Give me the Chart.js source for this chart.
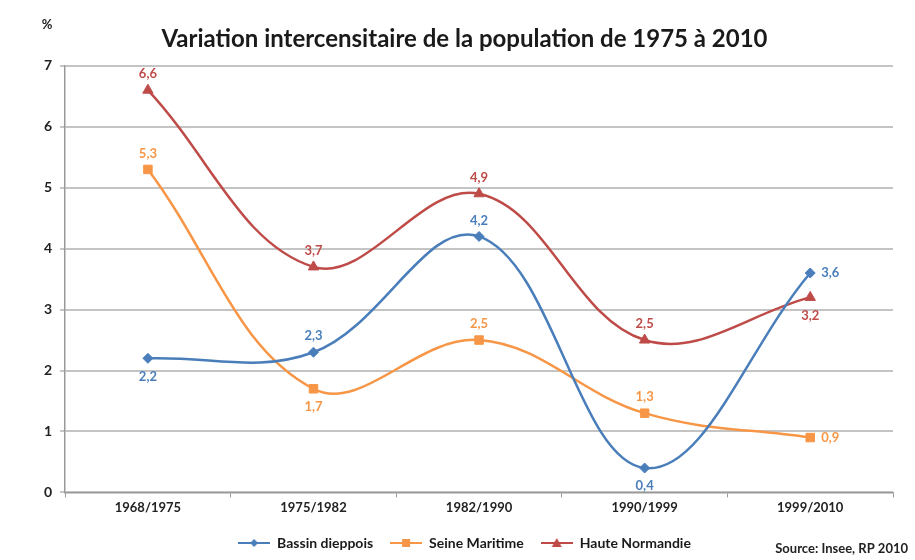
<!DOCTYPE html>
<html>
<head>
<meta charset="utf-8">
<script src="https://cdn.jsdelivr.net/npm/chart.js@4"></script>
<style>
  body { margin: 0; background: #fff; }
  #wrap { width: 915px; height: 560px; }
</style>
</head>
<body>
<div id="wrap"><canvas id="myChart" width="915" height="560"></canvas></div>
<script>
// data
const periods = ['1968/1975', '1975/1982', '1982/1990', '1990/1999', '1999/2010'];
const bassinDieppois = [2.2, 2.3, 4.2, 0.4, 3.6];
const seineMaritime = [5.3, 1.7, 2.5, 1.3, 0.9];
const hauteNormandie = [6.6, 3.7, 4.9, 2.5, 3.2];
const yTicks = [0, 1, 2, 3, 4, 5, 6, 7];

const FONT = 'Lato, "Open Sans", sans-serif';
const BLUE = '#4a7ebb';
const ORANGE = '#f79646';
const RED = '#be4b48';

// legend swatch: short line with the marker on top
function swatch(color, style) {
  const c = document.createElement('canvas');
  c.width = 32; c.height = 12;
  const g = c.getContext('2d');
  g.strokeStyle = color; g.fillStyle = color; g.lineWidth = 2;
  g.beginPath(); g.moveTo(0, 6); g.lineTo(32, 6); g.stroke();
  g.beginPath();
  if (style === 'rectRot') { g.moveTo(16, 2); g.lineTo(20, 6); g.lineTo(16, 10); g.lineTo(12, 6); }
  else if (style === 'rect') { g.rect(12, 2, 8, 8); }
  else { g.moveTo(16, 1); g.lineTo(21, 10); g.lineTo(11, 10); }
  g.closePath(); g.fill();
  return c;
}

const valueLabels = {
  id: 'valueLabels',
  afterDatasetsDraw(chart) {
    const ctx = chart.ctx;
    ctx.save();
    ctx.font = 'bold 13px ' + FONT;
    chart.data.datasets.forEach((ds, i) => {
      const meta = chart.getDatasetMeta(i);
      meta.data.forEach((pt, j) => {
        const pos = ds.labelPos[j];
        const txt = String(ds.data[j]).replace('.', ',');
        ctx.fillStyle = ds.borderColor;
        let x = pt.x, y = pt.y;
        ctx.textAlign = 'center';
        ctx.textBaseline = 'middle';
        if (pos === 'top') y -= 16;
        else if (pos === 'bottom') y += 18;
        else if (pos === 'right') { x += 11; ctx.textAlign = 'left'; }
        ctx.fillText(txt, x, y);
      });
    });
    ctx.restore();
  },
  afterDraw(chart) {
    const ctx = chart.ctx;
    ctx.save();
    ctx.fillStyle = '#222';
    ctx.font = 'bold 13px ' + FONT;
    ctx.textAlign = 'center';
    ctx.textBaseline = 'middle';
    ctx.fillText('%', 47, 25);
    ctx.textAlign = 'right';
    ctx.fillText('Source: Insee, RP 2010', 908, 549);
    ctx.restore();
  }
};

const config = {
  type: 'line',
  data: {
    labels: periods,
    datasets: [
      {
        label: 'Bassin dieppois',
        data: bassinDieppois,
        borderColor: BLUE,
        backgroundColor: BLUE,
        pointStyle: 'rectRot',
        pointRadius: 5,
        labelPos: ['bottom', 'top', 'top', 'bottom', 'right']
      },
      {
        label: 'Seine Maritime',
        data: seineMaritime,
        borderColor: ORANGE,
        backgroundColor: ORANGE,
        pointStyle: 'rect',
        pointRadius: 6,
        labelPos: ['top', 'bottom', 'top', 'top', 'right']
      },
      {
        label: 'Haute Normandie',
        data: hauteNormandie,
        borderColor: RED,
        backgroundColor: RED,
        pointStyle: 'triangle',
        pointRadius: 6,
        labelPos: ['top', 'top', 'top', 'top', 'bottom']
      }
    ]
  },
  options: {
    responsive: false,
    animation: false,
    layout: { padding: { left: 36, right: 22, top: 6, bottom: 0 } },
    elements: { line: { borderWidth: 2.5, tension: 0.38 } },
    plugins: {
      tooltip: { enabled: false },
      title: {
        display: true,
        text: 'Variation intercensitaire de la population de 1975 à 2010',
        color: '#1a1a1a',
        font: { family: FONT, size: 24, weight: 'bold' },
        padding: { top: 19, bottom: 12 }
      },
      legend: {
        position: 'bottom',
        labels: {
          color: '#1a1a1a',
          font: { family: FONT, size: 14, weight: 'bold' },
          usePointStyle: true,
          pointStyleWidth: 32,
          padding: 17,
          generateLabels(chart) {
            return chart.data.datasets.map((ds, i) => ({
              text: ds.label,
              pointStyle: swatch(ds.borderColor, ds.pointStyle),
              fontColor: '#1a1a1a',
              datasetIndex: i,
              lineWidth: 0
            }));
          }
        }
      }
    },
    scales: {
      x: {
        offset: true,
        grid: { display: true, drawOnChartArea: false, offset: true, tickLength: 5, color: '#999' },
        border: { color: '#999', width: 1.5 },
        ticks: { color: '#222', font: { family: FONT, size: 13, weight: 'bold' }, padding: 3 }
      },
      y: {
        min: 0,
        max: 7,
        afterBuildTicks(axis) { axis.ticks = yTicks.map(v => ({ value: v })); },
        grid: { color: '#c4c4c4', lineWidth: 2, tickLength: 5 },
        border: { color: '#999', width: 1.5 },
        ticks: { color: '#222', font: { family: FONT, size: 14, weight: 'bold' }, padding: 8 }
      }
    }
  },
  plugins: [valueLabels]
};

const ctx = document.getElementById('myChart');
const myChart = new Chart(ctx, config);
</script>
</body>
</html>
